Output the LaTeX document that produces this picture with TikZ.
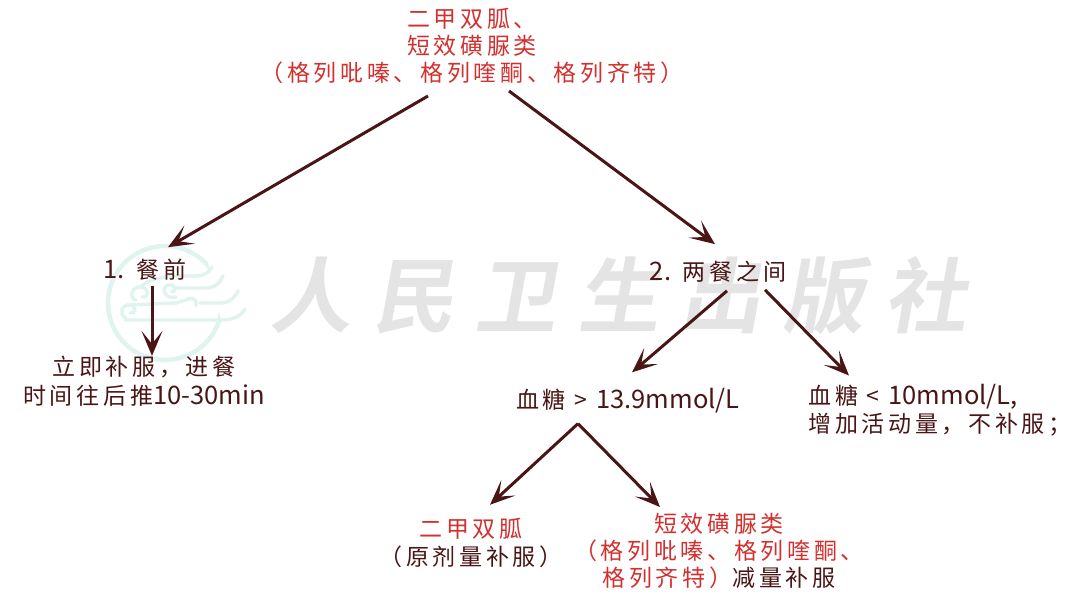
\documentclass[tikz,border=0pt]{standalone}
\usepackage{fontspec}
\usetikzlibrary{arrows.meta}
\setmainfont{Noto Sans CJK SC}
\newfontfamily\labelfont[LetterSpace=16]{Noto Sans CJK SC}
\newfontfamily\markfont[LetterSpace=25]{Noto Sans CJK SC Bold}
\newcommand{\lat}[1]{{\rmfamily\fontsize{25.5}{28}\selectfont #1}}
\definecolor{inkred}{HTML}{D2302E}
\definecolor{inkbrown}{HTML}{4A1515}
\definecolor{logoteal}{HTML}{DFF3EF}
\definecolor{markgray}{HTML}{E4E4E4}
\tikzset{
    redlabel/.style={font=\labelfont\fontsize{23}{27}\selectfont, text=inkred, align=center, inner sep=0pt},
    brownlabel/.style={font=\labelfont\fontsize{23}{28.5}\selectfont, text=inkbrown, align=center, inner sep=0pt},
    arrowline/.style={draw=inkbrown, line width=3pt, -{Stealth[length=25pt, width=21pt, inset=13pt]}},
    cloudline/.style={draw=logoteal, line width=3.4pt, line cap=round},
}

\begin{document}
\begin{tikzpicture}[x=1pt, y=-1pt]
    \useasboundingbox (0,0) rectangle (1080,609);

    % Logo
    \draw[cloudline, line width=4.5pt] (165,303) circle (57);
    \fill[white] (208,262) -- (250,262) -- (250,324) -- (222,324) -- cycle;
    \draw[cloudline] (172,276) -- (196,276) .. controls (205,276) and (209,272) .. (212,267);
    \draw[cloudline] (176,288) -- (206,288) .. controls (215,288) and (220,283) .. (223,276);
    \draw[cloudline] (200,303) -- (220,303) .. controls (229,303) and (235,298) .. (238,291);
    \draw[cloudline] (125,320) -- (222,320) .. controls (233,320) and (241,316) .. (245,309);
    \draw[cloudline] (136,300) .. controls (128,298) and (132,286) .. (141,287) .. controls (150,288) and (149,298) .. (142,297);
    \draw[cloudline] (141,287) .. controls (148,280) and (156,278) .. (172,276);
    \draw[cloudline] (176,297) .. controls (165,300) and (160,288) .. (168,285) .. controls (174,283) and (178,290) .. (172,292);
    \draw[cloudline] (126,318) .. controls (118,314) and (122,304) .. (130,305) .. controls (137,306) and (136,314) .. (130,313);
    \draw[cloudline] (130,305) -- (176,303) -- (186,300) .. controls (192,296) and (198,300) .. (196,306);

    % Publisher mark
    \node[font=\markfont\fontsize{82}{82}\selectfont, text=markgray, inner sep=0pt, xslant=0.18] (pressmark) at (624,296) {人民卫生出版社};

    % Texts
    \node[redlabel] (drugs) at (472,46) {二甲双胍、\\短效磺脲类\\（格列吡嗪、格列喹酮、格列齐特）};
    \node[brownlabel] (before) at (145,270) {\lat{1.} 餐前};
    \node[brownlabel] (between) at (718,272) {\lat{2.} 两餐之间};
    \node[brownlabel] (delay) at (144,381) {立即补服，进餐\\时间往后推\lat{10-30min}};
    \node[brownlabel] (high) at (628,401) {血糖 > \lat{13.9mmol/L}};
    \node[brownlabel, align=left] (low) at (940,410) {血糖 < \lat{10mmol/L,}\\增加活动量，不补服；};
    \node[brownlabel] (metformin) at (471,543) {\textcolor{inkred}{二甲双胍}\\（原剂量补服）};
    \node[redlabel] (sulfonyl) at (719,551) {短效磺脲类\\（格列吡嗪、格列喹酮、\\格列齐特）\textcolor{inkbrown}{减量补服}};

    % Arrows
    \draw[arrowline] ([xshift=-44pt, yshift=-12pt]drugs.south) -- ([xshift=23pt, yshift=12pt]before.north);
    \draw[arrowline] ([xshift=37pt, yshift=-7pt]drugs.south) -- ([xshift=-3pt, yshift=17pt]between.north);
    \draw[arrowline] ([xshift=7pt, yshift=-5pt]before.south) -- ([xshift=8pt]delay.north);
    \draw[arrowline] ([xshift=9pt, yshift=-8pt]between.south) -- ([xshift=4pt, yshift=16pt]high.north);
    \draw[arrowline] ([xshift=47pt, yshift=-7pt]between.south) -- ([xshift=-91pt, yshift=8pt]low.north);
    \draw[arrowline] ([xshift=-50pt, yshift=-10pt]high.south) -- ([xshift=19pt, yshift=13pt]metformin.north);
    \draw[arrowline] ([xshift=-50pt, yshift=-10pt]high.south) -- ([xshift=-59pt, yshift=6pt]sulfonyl.north);
\end{tikzpicture}
\end{document}
